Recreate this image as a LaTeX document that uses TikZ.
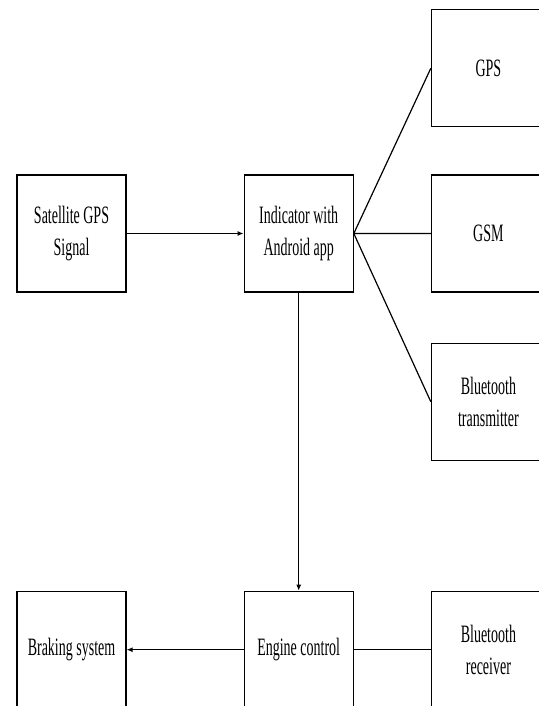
\documentclass[tikz,border=0pt]{standalone}
\usepackage{fontspec}
\newfontfamily\narrowserif[FakeStretch=0.56]{Liberation Serif}
\usetikzlibrary{positioning,arrows.meta}

\begin{document}
\begin{tikzpicture}[block/.style={draw,line width=1.2pt,minimum width=109pt,minimum height=117pt,align=center,inner sep=0pt},
                    wideblock/.style={block,minimum width=114pt},
                    font=\narrowserif\fontsize{25}{32}\selectfont,line width=1.2pt,>={Latex[length=6pt,width=5pt]}]
		  \useasboundingbox (0pt,0pt) rectangle (538pt,-706pt);
		  \node[block]                                  at (71.5pt,-233.5pt) (Satellite) {Satellite GPS\\Signal};
		  \node[block,right=117pt of Satellite]          (Indicator) {Indicator with\\Android app};
		  \node[wideblock,right=77pt of Indicator]       (GSM)       {GSM};
		  \node[wideblock,above=47pt of GSM]             (GPS)       {GPS};
		  \node[wideblock,below=50pt of GSM]             (BtTx)      {Bluetooth\\transmitter};
		  \node[block,below=298pt of Indicator]          (Engine)    {Engine control};
		  \node[block,left=117pt of Engine]              (Braking)   {Braking system};
		  \node[wideblock,right=77pt of Engine]          (BtRx)      {Bluetooth\\receiver};

		  \draw[->] (Satellite) -- (Indicator);
		  \draw     (Indicator.east) -- (GPS.west)
		            (Indicator.east) -- (GSM.west)
		            (Indicator.east) -- (BtTx.west);
		  \draw[->,line width=1pt] (Indicator) -- (Engine);
		  \draw     (BtRx) -- (Engine);
		  \draw[->] (Engine) -- (Braking);
\end{tikzpicture}
\end{document}
